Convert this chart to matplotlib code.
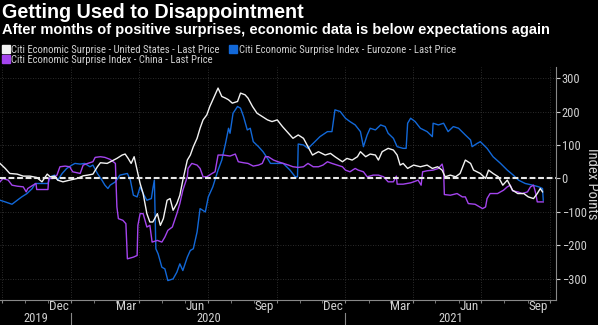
import pandas as pd
import matplotlib.pyplot as plt
import matplotlib.dates as mdates
import matplotlib.transforms as mtransforms
from matplotlib.lines import Line2D

# Citi Economic Surprise - United States
us_dates = ["2019-09-28", "2019-10-05", "2019-10-11", "2019-10-21", "2019-10-29", "2019-11-07",
            "2019-11-16", "2019-11-23", "2019-11-30", "2019-12-04", "2019-12-10", "2019-12-14",
            "2019-12-21", "2019-12-30", "2020-01-09", "2020-01-17", "2020-01-23", "2020-01-30",
            "2020-02-05", "2020-02-09", "2020-02-18", "2020-02-25", "2020-03-02", "2020-03-09",
            "2020-03-13", "2020-03-17", "2020-03-21", "2020-03-25", "2020-03-29", "2020-04-02",
            "2020-04-06", "2020-04-11", "2020-04-15", "2020-04-19", "2020-04-25", "2020-04-29",
            "2020-05-03", "2020-05-08", "2020-05-12", "2020-05-16", "2020-05-21", "2020-05-25",
            "2020-05-29", "2020-06-04", "2020-06-08", "2020-06-12", "2020-06-17", "2020-06-21",
            "2020-06-25", "2020-06-30", "2020-07-04", "2020-07-08", "2020-07-15", "2020-07-20",
            "2020-07-25", "2020-07-29", "2020-08-03", "2020-08-10", "2020-08-14", "2020-08-20",
            "2020-08-24", "2020-08-30", "2020-09-05", "2020-09-12", "2020-09-19", "2020-09-25",
            "2020-10-02", "2020-10-09", "2020-10-17", "2020-10-23", "2020-10-30", "2020-11-06",
            "2020-11-12", "2020-11-18", "2020-11-26", "2020-12-05", "2020-12-12", "2020-12-18",
            "2020-12-28", "2021-01-03", "2021-01-10", "2021-01-17", "2021-01-21", "2021-01-28",
            "2021-02-03", "2021-02-10", "2021-02-14", "2021-02-19", "2021-02-27", "2021-03-06",
            "2021-03-11", "2021-03-15", "2021-03-19", "2021-03-25", "2021-04-02", "2021-04-11",
            "2021-04-20", "2021-04-27", "2021-05-04", "2021-05-10", "2021-05-14", "2021-05-21",
            "2021-05-28", "2021-06-03", "2021-06-10", "2021-06-17", "2021-06-21", "2021-06-30",
            "2021-07-07", "2021-07-11", "2021-07-17", "2021-07-24", "2021-07-30", "2021-08-05",
            "2021-08-12", "2021-08-19", "2021-08-27", "2021-09-02", "2021-09-09", "2021-09-14",
            "2021-09-18", "2021-09-21"]
us_values = [45, 30, 15, 13, 7, 7,
             3, -10, 13, 5, 7, -5,
             -10, -5, 0, 8, 10, 13,
             35, 47, 45, 53, 60, 70,
             73, 60, 45, 65, 25, -15,
             -45, -105, -130, -130, -105, -140,
             -120, -65, -60, -95, -75, -50,
             -5, 55, 70, 95, 120, 150,
             175, 190, 215, 235, 270, 245,
             240, 235, 225, 230, 255, 250,
             240, 215, 195, 185, 175, 170,
             175, 155, 135, 120, 130, 120,
             95, 70, 80, 70, 75, 65,
             50, 60, 55, 65, 80, 65,
             73, 70, 55, 80, 90, 85,
             70, 40, 45, 30, 40, 35,
             40, 30, 35, 25, 5, 10,
             5, 15, 55, 45, 25, 15,
             0, 25, 15, 5, -20, -5,
             -35, -45, -45, -55, -60, -45,
             -30, -40]

# Citi Economic Surprise Index - Eurozone
ez_dates = ["2019-09-28", "2019-10-05", "2019-10-14", "2019-10-21", "2019-10-27", "2019-11-03",
            "2019-11-10", "2019-11-14", "2019-12-01", "2019-12-04", "2019-12-10", "2019-12-14",
            "2019-12-20", "2019-12-26", "2020-01-02", "2020-01-06", "2020-01-13", "2020-01-19",
            "2020-01-26", "2020-01-30", "2020-02-05", "2020-02-11", "2020-02-15", "2020-02-19",
            "2020-02-22", "2020-02-29", "2020-03-06", "2020-03-16", "2020-03-20", "2020-03-24",
            "2020-03-29", "2020-04-02", "2020-04-06", "2020-04-11", "2020-04-17", "2020-04-19",
            "2020-04-21", "2020-04-23", "2020-04-26", "2020-05-01", "2020-05-05", "2020-05-09",
            "2020-05-16", "2020-05-21", "2020-05-25", "2020-05-29", "2020-06-04", "2020-06-08",
            "2020-06-12", "2020-06-17", "2020-06-21", "2020-06-28", "2020-07-02", "2020-07-08",
            "2020-07-15", "2020-07-20", "2020-07-25", "2020-07-29", "2020-07-31", "2020-08-04",
            "2020-08-10", "2020-08-14", "2020-08-18", "2020-08-23", "2020-08-27", "2020-08-31",
            "2020-09-07", "2020-09-13", "2020-09-19", "2020-09-23", "2020-10-02", "2020-10-10",
            "2020-10-19", "2020-10-26", "2020-10-29", "2020-10-30", "2020-11-06", "2020-11-12",
            "2020-11-19", "2020-11-28", "2020-12-08", "2020-12-14", "2020-12-18", "2020-12-25",
            "2021-01-01", "2021-01-07", "2021-01-14", "2021-01-21", "2021-01-25", "2021-01-30",
            "2021-02-03", "2021-02-10", "2021-02-17", "2021-02-23", "2021-02-27", "2021-03-06",
            "2021-03-11", "2021-03-19", "2021-03-23", "2021-03-25", "2021-03-29", "2021-04-04",
            "2021-04-11", "2021-04-20", "2021-04-27", "2021-04-28", "2021-05-05", "2021-05-12",
            "2021-05-18", "2021-05-25", "2021-06-01", "2021-06-10", "2021-06-17", "2021-06-19",
            "2021-06-26", "2021-06-30", "2021-07-09", "2021-07-17", "2021-07-27", "2021-08-05",
            "2021-08-13", "2021-08-20", "2021-08-29", "2021-09-08", "2021-09-16", "2021-09-21",
            "2021-09-22"]
ez_values = [-65, -70, -77, -65, -55, -45,
             -30, -15, -15, 5, 10, -5,
             15, 30, 40, 45, 43, 45,
             35, 40, 15, -5, -20, -30,
             -20, -10, 10, 15, -5, -50,
             -55, -25, -45, -65, -60, -30,
             -5, -210, -225, -265, -270, -305,
             -300, -280, -255, -275, -235, -215,
             -210, -160, -90, -100, -55, -25,
             25, 55, 105, 150, 135, 195,
             215, 210, 185, 145, 150, 110,
             95, 80, 60, 45, 45, 45,
             25, 5, 5, 103, 100, 90,
             105, 125, 140, 140, 205, 200,
             180, 170, 160, 140, 95, 130,
             150, 145, 160, 155, 135, 120,
             95, 90, 90, 165, 180, 170,
             150, 140, 125, 165, 160, 165,
             140, 155, 150, 130, 115, 95,
             105, 110, 90, 65, 45, 25,
             10, -5, -15, -20, -25, -30,
             -65]

# Citi Economic Surprise Index - China
cn_dates = ["2019-09-28", "2019-10-02", "2019-10-09", "2019-10-14", "2019-10-21", "2019-10-29",
            "2019-11-02", "2019-11-04", "2019-11-11", "2019-11-15", "2019-11-16", "2019-12-01",
            "2019-12-02", "2019-12-08", "2019-12-13", "2019-12-17", "2019-12-24", "2019-12-30",
            "2020-01-03", "2020-01-13", "2020-01-17", "2020-01-23", "2020-01-30", "2020-02-02",
            "2020-02-09", "2020-02-15", "2020-02-22", "2020-02-29", "2020-03-02", "2020-03-04",
            "2020-03-10", "2020-03-14", "2020-03-16", "2020-03-24", "2020-03-29", "2020-03-30",
            "2020-04-02", "2020-04-06", "2020-04-11", "2020-04-15", "2020-04-18", "2020-04-25",
            "2020-05-01", "2020-05-05", "2020-05-09", "2020-05-15", "2020-05-21", "2020-05-25",
            "2020-05-29", "2020-06-04", "2020-06-05", "2020-06-10", "2020-06-17", "2020-06-21",
            "2020-06-25", "2020-06-30", "2020-07-07", "2020-07-11", "2020-07-15", "2020-07-22",
            "2020-07-31", "2020-08-07", "2020-08-11", "2020-08-18", "2020-08-24", "2020-08-31",
            "2020-09-07", "2020-09-12", "2020-09-16", "2020-09-20", "2020-09-27", "2020-10-03",
            "2020-10-10", "2020-10-17", "2020-10-23", "2020-10-30", "2020-11-06", "2020-11-12",
            "2020-11-19", "2020-11-26", "2020-12-02", "2020-12-08", "2020-12-14", "2020-12-21",
            "2020-12-28", "2021-01-01", "2021-01-07", "2021-01-14", "2021-01-18", "2021-01-25",
            "2021-01-30", "2021-02-07", "2021-02-14", "2021-02-21", "2021-02-27", "2021-03-06",
            "2021-03-10", "2021-03-11", "2021-03-19", "2021-03-29", "2021-04-02", "2021-04-08",
            "2021-04-12", "2021-04-14", "2021-04-20", "2021-04-28", "2021-05-05", "2021-05-10",
            "2021-05-12", "2021-05-13", "2021-05-21", "2021-05-30", "2021-06-06", "2021-06-10",
            "2021-06-14", "2021-06-23", "2021-07-03", "2021-07-07", "2021-07-09", "2021-07-13",
            "2021-07-23", "2021-07-31", "2021-08-05", "2021-08-09", "2021-08-12", "2021-08-19",
            "2021-08-25", "2021-09-01", "2021-09-05", "2021-09-09", "2021-09-12", "2021-09-14",
            "2021-09-22"]
cn_values = [-10, 0, -5, -20, -23, -25,
             -40, -30, -20, -15, -33, -33,
             0, 0, 10, 35, 37, 35,
             20, 15, 40, 45, 50, 63,
             65, 63, 57, 45, -85, -120,
             -125, -135, -240, -235, -230, -140,
             -105, -105, -145, -140, -190, -185,
             -190, -175, -155, -145, -105, -75,
             -35, 5, 30, 45, 40, 30,
             5, 5, 15, 20, 70, 70,
             67, 73, 50, 47, 45, 37,
             40, 45, 65, 65, 55, 50,
             45, 40, 35, 33, 35, 45,
             35, 35, 40, 50, 45, 40,
             35, 25, 20, 30, 25, 20,
             5, 10, 10, 5, -10, -10,
             7, -17, -17, -13, -10, -5,
             -20, 20, 23, 25, 30, 43,
             25, -48, -50, -45, -55, -55,
             -75, -77, -90, -85, -60, -45,
             -45, -35, -25, -20, -37, -40,
             -45, -40, -25, -20, -45, -70,
             -70]

series_labels = ["Citi Economic Surprise - United States - Last Price",
                 "Citi Economic Surprise Index - Eurozone - Last Price",
                 "Citi Economic Surprise Index - China - Last Price"]
month_labels = ["Dec", "Mar", "Jun", "Sep", "Dec", "Mar", "Jun", "Sep"]
month_label_dates = ["2019-12-15", "2020-03-15", "2020-06-15", "2020-09-15",
                     "2020-12-15", "2021-03-15", "2021-06-15", "2021-09-15"]
year_labels = ["2019", "2020", "2021"]

NARROW = ["Roboto Condensed", "DejaVu Sans"]
BOLD = ["Liberation Sans", "DejaVu Sans"]
WHITE = "#f2f2f2"
BLUE = "#1268d8"
PURPLE = "#a444ee"
TXT = "#d0d0d0"

plt.rcParams["font.family"] = NARROW

fig = plt.figure(figsize=(5.98, 3.25), dpi=100, facecolor="black")
ax = fig.add_axes([0.0, 25 / 325, 556 / 598, 233 / 325])
ax.set_facecolor("black")

xmin, xmax = pd.Timestamp("2019-09-28"), pd.Timestamp("2021-10-09")

ax.plot(pd.to_datetime(ez_dates), ez_values, color=BLUE, lw=1.0, zorder=3)
ax.plot(pd.to_datetime(cn_dates), cn_values, color=PURPLE, lw=1.0, zorder=3)
ax.plot(pd.to_datetime(us_dates), us_values, color=WHITE, lw=1.0, zorder=4)
ax.axhline(0, color="#e8e8e8", lw=1.5, ls=(0, (2.8, 1.3)), zorder=5)

ax.set_xlim(xmin, xmax)
ax.set_ylim(-363, 333)

# y axis on the right
ax.yaxis.tick_right()
ax.set_yticks(range(-300, 301, 100))
ax.tick_params(axis="y", colors=TXT, labelsize=9, length=3, pad=1, direction="out")
ax.yaxis.set_label_position("right")
ax.set_ylabel("Index Points", color=TXT, fontsize=10.5, rotation=270, va="center")
ax.yaxis.set_label_coords(592 / 556, 0.5)

# x axis: month ticks, quarter gridlines
ax.xaxis.set_major_locator(mdates.MonthLocator(bymonth=[1, 4, 7, 10]))
ax.xaxis.set_minor_locator(mdates.MonthLocator())
ax.xaxis.set_major_formatter(plt.NullFormatter())
ax.tick_params(axis="x", which="both", colors="#888888", length=2.5, direction="out")

ax.grid(True, which="major", color="#3a3a3a", lw=0.6, ls=(0, (1, 2)))

for side in ["top", "left"]:
    ax.spines[side].set_visible(False)
for side in ["right", "bottom"]:
    ax.spines[side].set_color("#888888")
    ax.spines[side].set_linewidth(0.8)

trans = mtransforms.blended_transform_factory(ax.transData, ax.transAxes)
for lab, d in zip(month_labels, month_label_dates):
    ax.text(pd.Timestamp(d), -0.03, lab, transform=trans, ha="center", va="center",
            color=TXT, fontsize=9.5)

# year labels centered on visible span, separators at year boundaries
bounds = [xmin, pd.Timestamp("2020-01-01"), pd.Timestamp("2021-01-01"), xmax]
for i, lab in enumerate(year_labels):
    mid = bounds[i] + (bounds[i + 1] - bounds[i]) / 2
    ax.text(mid, -0.078, lab, transform=trans, ha="center", va="center",
            color=TXT, fontsize=9)
for b in bounds[1:3]:
    ax.add_line(Line2D([b, b], [-0.056, -0.11], transform=trans, color="#888888",
                       lw=0.8, clip_on=False))

fig.text(0.003, 1 - 12.5 / 325, "Getting Used to Disappointment", color="white",
         fontsize=14.2, fontweight="bold", family=BOLD, va="center", ha="left")
fig.text(0.003, 1 - 30 / 325,
         "After months of positive surprises, economic data is below expectations again",
         color="white", fontsize=10.5, fontweight="bold", family=BOLD, va="center", ha="left")

handles = [Line2D([], [], marker="s", ls="none", color=c, markersize=5.5)
           for c in [WHITE, PURPLE, BLUE]]
labels = [series_labels[0], series_labels[2], series_labels[1]]
fig.legend(handles, labels, ncol=2, loc="upper left", bbox_to_anchor=(0.004, 1 - 45 / 325),
           frameon=False, fontsize=7.7, labelcolor=TXT, handlelength=0.6,
           handletextpad=0.25, columnspacing=0.9, labelspacing=0.0, borderpad=0,
           borderaxespad=0)

fig.savefig("out.png", dpi=100, facecolor="black")
